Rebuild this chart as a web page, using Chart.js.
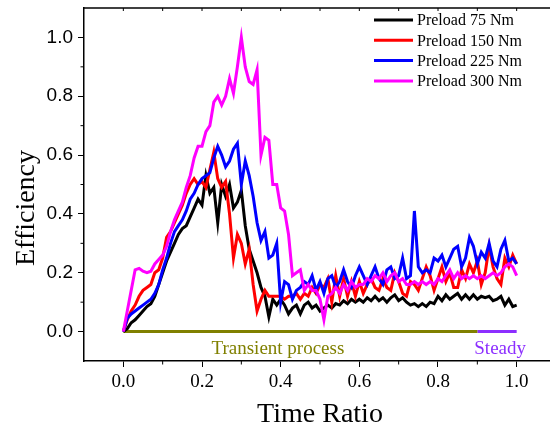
<!DOCTYPE html>
<html>
<head>
<meta charset="utf-8">
<script src="https://cdn.jsdelivr.net/npm/chart.js@4.4.0/dist/chart.umd.min.js"></script>
<style>
  html, body { margin: 0; padding: 0; background: #fff; overflow: hidden; }
  #wrap { width: 560px; height: 429px; }
</style>
</head>
<body>
<div id="wrap"><canvas id="chart"></canvas></div>
<script>
// time ratio grid shared by all four runs
const timeRatio = [
  0.00, 0.01, 0.02, 0.03, 0.04, 0.05, 0.06, 0.07, 0.08, 0.09,
  0.10, 0.11, 0.12, 0.13, 0.14, 0.15, 0.16, 0.17, 0.18, 0.19,
  0.20, 0.21, 0.22, 0.23, 0.24, 0.25, 0.26, 0.27, 0.28, 0.29,
  0.30, 0.31, 0.32, 0.33, 0.34, 0.35, 0.36, 0.37, 0.38, 0.39,
  0.40, 0.41, 0.42, 0.43, 0.44, 0.45, 0.46, 0.47, 0.48, 0.49,
  0.50, 0.51, 0.52, 0.53, 0.54, 0.55, 0.56, 0.57, 0.58, 0.59,
  0.60, 0.61, 0.62, 0.63, 0.64, 0.65, 0.66, 0.67, 0.68, 0.69,
  0.70, 0.71, 0.72, 0.73, 0.74, 0.75, 0.76, 0.77, 0.78, 0.79,
  0.80, 0.81, 0.82, 0.83, 0.84, 0.85, 0.86, 0.87, 0.88, 0.89,
  0.90, 0.91, 0.92, 0.93, 0.94, 0.95, 0.96, 0.97, 0.98, 0.99,
  1.00
];

const preload75 = [
  0, 0.01, 0.03, 0.04, 0.055, 0.07, 0.085, 0.095, 0.12, 0.16,
  0.20, 0.24, 0.27, 0.30, 0.33, 0.35, 0.36, 0.39, 0.42, 0.45,
  0.43, 0.53, 0.47, 0.49, 0.37, 0.50, 0.46, 0.50, 0.42, 0.44,
  0.48, 0.36, 0.28, 0.24, 0.20, 0.15, 0.12, 0.05, 0.11, 0.09,
  0.11, 0.09, 0.06, 0.08, 0.09, 0.06, 0.09, 0.10, 0.08, 0.09,
  0.07, 0.08, 0.09, 0.08, 0.095, 0.09, 0.105, 0.095, 0.11, 0.10,
  0.11, 0.10, 0.115, 0.105, 0.12, 0.105, 0.115, 0.10, 0.115, 0.125,
  0.105, 0.115, 0.10, 0.09, 0.095, 0.085, 0.095, 0.085, 0.10, 0.095,
  0.12, 0.105, 0.125, 0.11, 0.12, 0.13, 0.11, 0.125, 0.11, 0.125,
  0.11, 0.12, 0.115, 0.12, 0.105, 0.11, 0.12, 0.09, 0.11, 0.085,
  0.09
];

const preload150 = [
  0, 0.04, 0.07, 0.09, 0.12, 0.14, 0.15, 0.16, 0.20, 0.21,
  0.25, 0.32, 0.34, 0.37, 0.40, 0.43, 0.47, 0.50, 0.52, 0.50,
  0.51, 0.49, 0.55, 0.61, 0.52, 0.49, 0.51, 0.40, 0.25, 0.33,
  0.30, 0.23, 0.28, 0.16, 0.07, 0.11, 0.14, 0.12, 0.12, 0.12,
  0.12, 0.11, 0.12, 0.12, 0.13, 0.11, 0.13, 0.12, 0.15, 0.13,
  0.16, 0.15, 0.18, 0.10, 0.19, 0.12, 0.18, 0.12, 0.17, 0.12,
  0.17, 0.13, 0.16, 0.18, 0.15, 0.14, 0.18, 0.15, 0.14, 0.20,
  0.17, 0.13, 0.12, 0.17, 0.16, 0.14, 0.18, 0.22, 0.19, 0.14,
  0.18, 0.22, 0.17, 0.20, 0.15, 0.15, 0.21, 0.18, 0.23, 0.20,
  0.24, 0.16, 0.20, 0.29, 0.22, 0.18, 0.16, 0.25, 0.22, 0.26,
  0.23
];

const preload225 = [
  0, 0.045, 0.06, 0.07, 0.08, 0.09, 0.10, 0.11, 0.13, 0.16,
  0.21, 0.25, 0.30, 0.34, 0.36, 0.38, 0.41, 0.45, 0.47, 0.50,
  0.52, 0.53, 0.54, 0.59, 0.63, 0.60, 0.56, 0.58, 0.62, 0.64,
  0.50, 0.58, 0.53, 0.46, 0.37, 0.31, 0.34, 0.25, 0.26, 0.30,
  0.10, 0.17, 0.16, 0.11, 0.14, 0.15, 0.17, 0.16, 0.19, 0.14,
  0.17, 0.13, 0.18, 0.19, 0.15, 0.17, 0.21, 0.17, 0.15, 0.19,
  0.22, 0.19, 0.16, 0.19, 0.22, 0.18, 0.16, 0.21, 0.22, 0.18,
  0.19, 0.25, 0.18, 0.19, 0.41, 0.22, 0.20, 0.21, 0.20, 0.25,
  0.24, 0.26, 0.22, 0.25, 0.28, 0.29, 0.22, 0.25, 0.32, 0.29,
  0.23, 0.27, 0.25, 0.30, 0.24, 0.22, 0.28, 0.31, 0.24, 0.25,
  0.23
];

const preload300 = [
  0, 0.07, 0.14, 0.21, 0.215, 0.205, 0.20, 0.205, 0.23, 0.245,
  0.26, 0.29, 0.34, 0.38, 0.41, 0.44, 0.49, 0.53, 0.59, 0.63,
  0.63, 0.68, 0.70, 0.78, 0.80, 0.77, 0.80, 0.86, 0.81, 0.90,
  1.00, 0.90, 0.85, 0.84, 0.89, 0.60, 0.66, 0.65, 0.50, 0.50,
  0.42, 0.41, 0.33, 0.19, 0.20, 0.21, 0.14, 0.16, 0.14, 0.14,
  0.11, 0.04, 0.12, 0.13, 0.15, 0.13, 0.16, 0.14, 0.17, 0.15,
  0.16, 0.16, 0.18, 0.17, 0.19, 0.18, 0.20, 0.17, 0.19, 0.20,
  0.17, 0.18, 0.16, 0.16, 0.17, 0.16, 0.17, 0.16, 0.17, 0.16,
  0.18, 0.17, 0.19, 0.21, 0.18, 0.20, 0.18, 0.19, 0.18, 0.19,
  0.18, 0.19, 0.18, 0.19, 0.20, 0.19, 0.20, 0.22, 0.23, 0.22,
  0.19
];

const seriesNames = ['Preload 75 Nm', 'Preload 150 Nm', 'Preload 225 Nm', 'Preload 300 Nm'];
const seriesColors = ['#000000', '#ff0000', '#0000ff', '#ff00ff'];

const xTickValues = [0.0, 0.2, 0.4, 0.6, 0.8, 1.0];
const yTickValues = [0.0, 0.2, 0.4, 0.6, 0.8, 1.0];
const minorTickValues = [0.1, 0.3, 0.5, 0.7, 0.9];

// phase markers along the zero line
const transientRange = [0.0, 0.9];
const steadyRange = [0.9, 1.0];
const transientColor = '#808000';
const steadyColor = '#8c2eff';

const SERIF = "'Liberation Serif', 'Times New Roman', serif";
const SANS = "'Liberation Sans', Arial, sans-serif";

const toPoints = (ys) => timeRatio.map((t, i) => ({ x: t, y: ys[i] }));

const allSeries = [preload75, preload150, preload225, preload300];

const datasets = allSeries.map((ys, i) => ({
  label: seriesNames[i],
  data: toPoints(ys),
  borderColor: seriesColors[i],
  borderWidth: 3,
  pointRadius: 0,
  tension: 0,
  order: 10 - i
}));

datasets.push({
  label: 'transient',
  data: transientRange.map(t => ({ x: t, y: 0 })),
  borderColor: transientColor,
  borderWidth: 3,
  pointRadius: 0,
  order: 20
});
datasets.push({
  label: 'steady',
  data: steadyRange.map(t => ({ x: t, y: 0 })),
  borderColor: steadyColor,
  borderWidth: 3,
  pointRadius: 0,
  order: 20
});

// no extra padding from the tick labels
const noPad = (s) => {
  s.paddingTop = 0;
  s.paddingBottom = 0;
  s.paddingLeft = 0;
  s.paddingRight = 0;
};

// frame, minor ticks, legend and text labels
const decorPlugin = {
  id: 'decor',
  afterDraw(chart) {
    const { ctx, chartArea: a, scales: { x, y } } = chart;
    ctx.save();
    ctx.strokeStyle = '#000';
    ctx.lineWidth = 1.5;

    // top border (right one falls outside the picture)
    ctx.beginPath();
    ctx.moveTo(a.left, a.top);
    ctx.lineTo(a.right, a.top);
    ctx.stroke();

    ctx.lineWidth = 1;
    ctx.beginPath();
    minorTickValues.forEach(v => {
      const px = x.getPixelForValue(v);
      ctx.moveTo(px, a.bottom);
      ctx.lineTo(px, a.bottom + 3.5);
      const py = y.getPixelForValue(v);
      ctx.moveTo(a.left, py);
      ctx.lineTo(a.left - 3.5, py);
    });
    // inward ticks on the top border
    xTickValues.concat(minorTickValues).forEach(v => {
      const px = x.getPixelForValue(v);
      ctx.moveTo(px, a.top);
      ctx.lineTo(px, a.top + 3);
    });
    ctx.stroke();

    // legend
    ctx.font = '16px ' + SERIF;
    ctx.textBaseline = 'middle';
    ctx.textAlign = 'left';
    seriesNames.forEach((name, i) => {
      const ly = 20 + i * 20.3;
      ctx.strokeStyle = seriesColors[i];
      ctx.lineWidth = 3;
      ctx.beginPath();
      ctx.moveTo(374, ly);
      ctx.lineTo(413, ly);
      ctx.stroke();
      ctx.fillStyle = '#000';
      ctx.fillText(name, 417, ly + 1);
    });

    // phase labels
    ctx.font = '19px ' + SERIF;
    ctx.textAlign = 'center';
    ctx.fillStyle = transientColor;
    ctx.fillText('Transient process', x.getPixelForValue(0.393), 349);
    ctx.fillStyle = steadyColor;
    ctx.fillText('Steady', x.getPixelForValue(0.958), 349);

    // axis titles
    ctx.fillStyle = '#000';
    ctx.font = '28px ' + SERIF;
    ctx.textBaseline = 'alphabetic';
    ctx.fillText('Time Ratio', 320, 422);
    ctx.save();
    ctx.translate(34, 208);
    ctx.rotate(-Math.PI / 2);
    ctx.fillText('Efficiency', 0, 0);
    ctx.restore();

    ctx.restore();
  }
};

new Chart(document.getElementById('chart'), {
  type: 'line',
  data: { datasets },
  options: {
    responsive: true,
    maintainAspectRatio: false,
    animation: false,
    layout: { padding: { top: 8, right: 4, left: 0, bottom: 0 } },
    plugins: {
      legend: { display: false },
      tooltip: { enabled: false }
    },
    scales: {
      x: {
        type: 'linear',
        min: -0.1,
        max: 1.1,
        afterBuildTicks: (s) => { s.ticks = xTickValues.map(v => ({ value: v })); },
        afterFit: (s) => { s.height = 68; noPad(s); },
        ticks: {
          color: '#000',
          font: { family: SERIF, size: 19 },
          padding: 4,
          maxRotation: 0,
          autoSkip: false,
          callback: (v) => v.toFixed(1)
        },
        grid: { drawOnChartArea: false, tickLength: 6, tickColor: '#000', tickWidth: 1 },
        border: { color: '#000', width: 1.5 }
      },
      y: {
        type: 'linear',
        min: -0.1,
        max: 1.1,
        afterBuildTicks: (s) => { s.ticks = yTickValues.map(v => ({ value: v })); },
        afterFit: (s) => { s.width = 84; noPad(s); },
        ticks: {
          color: '#000',
          font: { family: SANS, size: 19 },
          padding: 5,
          autoSkip: false,
          callback: (v) => v.toFixed(1)
        },
        grid: { drawOnChartArea: false, tickLength: 6, tickColor: '#000', tickWidth: 1 },
        border: { color: '#000', width: 1.5 }
      }
    }
  },
  plugins: [decorPlugin]
});
</script>
</body>
</html>
